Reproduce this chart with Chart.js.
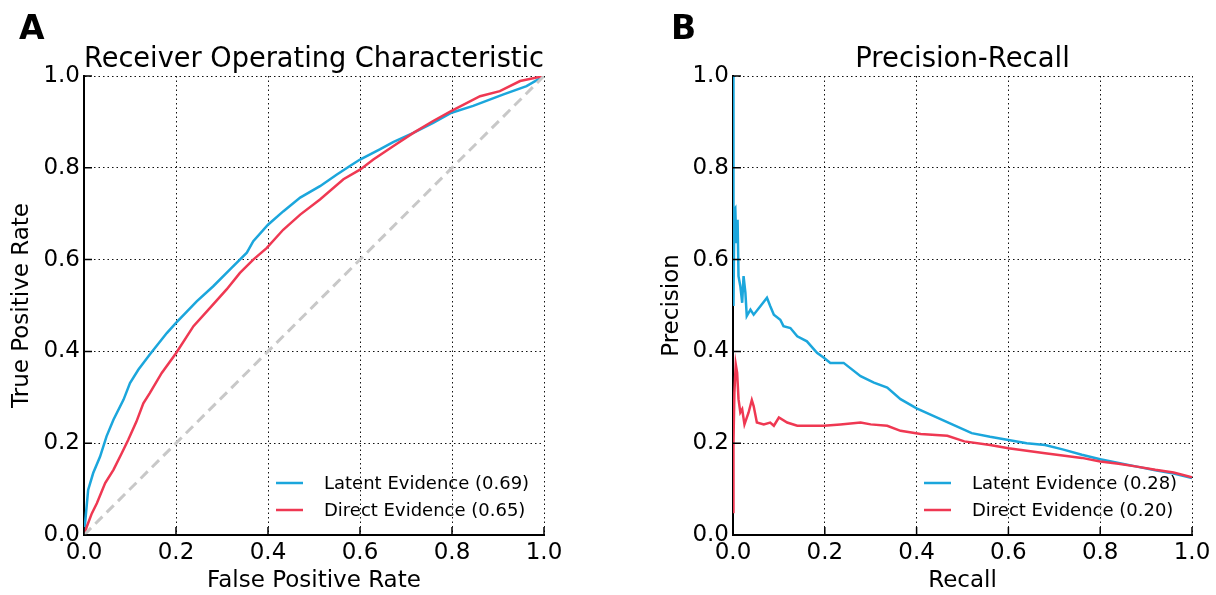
<!DOCTYPE html>
<html>
<head>
<meta charset="utf-8">
<script src="https://cdn.jsdelivr.net/npm/chart.js@4"></script>
<style>
  body { margin: 0; background: #fff; width: 1216px; height: 595px; position: relative; overflow: hidden; font-family: "DejaVu Sans", sans-serif; }
  .panel { position: absolute; top: 0; width: 608px; height: 595px; }
  .tag { position: absolute; top: 8px; font: bold 33px "DejaVu Sans", sans-serif; color: #000; }
</style>
</head>
<body>
<div class="panel" style="left:0"><canvas id="roc"></canvas></div>
<div class="panel" style="left:608px"><canvas id="pr"></canvas></div>
<div class="tag" style="left:19px">A</div>
<div class="tag" style="left:671px">B</div>
<script>
// ROC curves
const rocLatentFpr = [0, 0.009, 0.02, 0.035, 0.049, 0.064, 0.086, 0.1, 0.118, 0.143, 0.18, 0.2, 0.245, 0.281, 0.317, 0.354, 0.368, 0.4, 0.433, 0.47, 0.513, 0.549, 0.578, 0.6, 0.643, 0.672, 0.716, 0.759, 0.799, 0.846, 0.912, 0.962, 1];
const rocLatentTpr = [0, 0.098, 0.135, 0.171, 0.215, 0.251, 0.295, 0.331, 0.36, 0.393, 0.44, 0.462, 0.509, 0.542, 0.578, 0.615, 0.64, 0.676, 0.705, 0.735, 0.76, 0.785, 0.804, 0.818, 0.84, 0.856, 0.876, 0.898, 0.92, 0.935, 0.96, 0.978, 1];
const rocDirectFpr = [0, 0.006, 0.017, 0.028, 0.046, 0.064, 0.082, 0.096, 0.114, 0.129, 0.143, 0.169, 0.2, 0.238, 0.274, 0.31, 0.339, 0.368, 0.397, 0.433, 0.47, 0.513, 0.564, 0.6, 0.629, 0.672, 0.716, 0.759, 0.799, 0.861, 0.904, 0.948, 1];
const rocDirectTpr = [0, 0.018, 0.047, 0.069, 0.113, 0.142, 0.178, 0.207, 0.247, 0.287, 0.309, 0.353, 0.396, 0.455, 0.495, 0.535, 0.571, 0.6, 0.625, 0.665, 0.698, 0.731, 0.775, 0.796, 0.818, 0.847, 0.876, 0.902, 0.924, 0.956, 0.967, 0.989, 1];
const rocChance = [0, 1];

// Precision-recall curves
const prLatentRecall = [0, 0.001, 0.003, 0.005, 0.007, 0.01, 0.012, 0.016, 0.02, 0.023, 0.027, 0.03, 0.038, 0.045, 0.06, 0.074, 0.081, 0.089, 0.103, 0.11, 0.125, 0.14, 0.161, 0.183, 0.198, 0.212, 0.241, 0.278, 0.307, 0.336, 0.365, 0.4, 0.44, 0.48, 0.52, 0.56, 0.6, 0.64, 0.68, 0.72, 0.76, 0.8, 0.84, 0.88, 0.92, 0.96, 1.0];
const prLatentPrecision = [1.0, 0.499, 0.709, 0.712, 0.636, 0.687, 0.564, 0.542, 0.506, 0.564, 0.528, 0.477, 0.491, 0.48, 0.499, 0.517, 0.499, 0.48, 0.469, 0.455, 0.451, 0.433, 0.422, 0.397, 0.386, 0.375, 0.375, 0.346, 0.332, 0.321, 0.296, 0.276, 0.258, 0.24, 0.222, 0.214, 0.207, 0.2, 0.196, 0.186, 0.175, 0.165, 0.157, 0.149, 0.141, 0.134, 0.124];
const prDirectRecall = [0, 0.001, 0.003, 0.006, 0.009, 0.012, 0.016, 0.02, 0.025, 0.034, 0.041, 0.045, 0.052, 0.067, 0.081, 0.089, 0.1, 0.118, 0.14, 0.169, 0.198, 0.234, 0.278, 0.3, 0.336, 0.365, 0.409, 0.467, 0.504, 0.56, 0.6, 0.68, 0.76, 0.8, 0.84, 0.88, 0.92, 0.96, 1.0];
const prDirectPrecision = [0.05, 0.2, 0.31, 0.372, 0.354, 0.296, 0.267, 0.274, 0.241, 0.267, 0.294, 0.281, 0.245, 0.241, 0.245, 0.238, 0.256, 0.245, 0.238, 0.238, 0.238, 0.241, 0.245, 0.241, 0.238, 0.227, 0.22, 0.216, 0.204, 0.196, 0.189, 0.178, 0.168, 0.16, 0.155, 0.149, 0.142, 0.136, 0.126];

const rocLabels = ['Latent Evidence (0.69)', 'Direct Evidence (0.65)'];
const prLabels = ['Latent Evidence (0.28)', 'Direct Evidence (0.20)'];
const tickValues = [0, 0.2, 0.4, 0.6, 0.8, 1.0];

const BLUE = '#1ba6dc';
const RED = '#ef3852';
const FONT = '"DejaVu Sans", sans-serif';

function pts(xs, ys) {
    return xs.map((x, i) => ({x: x, y: ys[i]}));
}

function curve(label, data, color, legendPos) {
    return {label: label, data: data, borderColor: color, borderWidth: 2.5,
        pointRadius: 0, tension: 0, fill: false, legendPos: legendPos};
}

// inward tick marks on the left and bottom spines
const innerTicks = {
    id: 'innerTicks',
    afterDatasetsDraw(chart) {
        const ctx = chart.ctx, a = chart.chartArea;
        const xs = chart.scales.x, ys = chart.scales.y;
        ctx.save();
        ctx.strokeStyle = '#000';
        ctx.lineWidth = 1.5;
        ctx.beginPath();
        tickValues.forEach(v => {
            const px = xs.getPixelForValue(v);
            ctx.moveTo(px, a.bottom);
            ctx.lineTo(px, a.bottom - 8);
            const py = ys.getPixelForValue(v);
            ctx.moveTo(a.left, py);
            ctx.lineTo(a.left + 8, py);
        });
        ctx.stroke();
        ctx.restore();
    }
};

// frameless legend in the lower right of the plot area
const cornerLegend = {
    id: 'cornerLegend',
    afterDraw(chart) {
        const ctx = chart.ctx, a = chart.chartArea;
        const items = chart.data.datasets.filter(d => d.legendPos !== undefined);
        ctx.save();
        ctx.font = '18px ' + FONT;
        ctx.textBaseline = 'middle';
        ctx.fillStyle = '#000';
        items.forEach(d => {
            const y = a.bottom - 52 + d.legendPos * 27;
            ctx.strokeStyle = d.borderColor;
            ctx.lineWidth = 2.5;
            ctx.beginPath();
            ctx.moveTo(a.right - 268, y);
            ctx.lineTo(a.right - 241, y);
            ctx.stroke();
            ctx.fillText(d.label, a.right - 220, y + 1);
        });
        ctx.restore();
    }
};

function makeOptions(title, xTitle, yTitle, yWidth, yTitlePad, padRight) {
    const axis = (t, pad) => ({
        min: 0, max: 1,
        ticks: {stepSize: 0.2, padding: pad, color: '#000', maxRotation: 0,
            font: {family: FONT, size: 23}, callback: v => v.toFixed(1)},
        grid: {color: '#111', lineWidth: 1, drawTicks: false},
        // border.dash styles the grid lines, the spine itself stays solid
        border: {display: true, color: '#000', width: 2, dash: [1.5, 3]},
        title: {display: true, text: t, color: '#000',
            font: {family: FONT, size: 23, lineHeight: 1.2}, padding: {top: 0, bottom: 0}}
    });
    const x = axis(xTitle, 4);
    x.type = 'linear';
    x.afterFit = s => { s.height = 60; };
    const y = axis(yTitle, 4);
    y.afterFit = s => { s.width = yWidth; };
    y.title.padding = {top: yTitlePad, bottom: 0};
    return {
        responsive: true,
        maintainAspectRatio: false,
        animation: false,
        layout: {padding: {left: 0, right: padRight, top: 0, bottom: 0}},
        plugins: {
            legend: {display: false},
            tooltip: {enabled: false},
            title: {
                display: true, text: title, color: '#000', fullSize: false,
                font: {family: FONT, size: 27.5, weight: 'normal', lineHeight: 1.2},
                padding: {top: 43, bottom: 0}
            }
        },
        scales: {x: x, y: y}
    };
}

new Chart(document.getElementById('roc'), {
    type: 'line',
    data: {
        datasets: [
            {label: 'chance', data: pts(rocChance, rocChance), borderColor: '#c8c8c8', borderWidth: 3,
                borderDash: [10, 6], pointRadius: 0, tension: 0},
            curve(rocLabels[1], pts(rocDirectFpr, rocDirectTpr), RED, 1),
            curve(rocLabels[0], pts(rocLatentFpr, rocLatentTpr), BLUE, 0)
        ]
    },
    options: makeOptions('Receiver Operating Characteristic', 'False Positive Rate', 'True Positive Rate', 84, 8, 64),
    plugins: [innerTicks, cornerLegend]
});

new Chart(document.getElementById('pr'), {
    type: 'line',
    data: {
        datasets: [
            curve(prLabels[1], pts(prDirectRecall, prDirectPrecision), RED, 1),
            curve(prLabels[0], pts(prLatentRecall, prLatentPrecision), BLUE, 0)
        ]
    },
    options: makeOptions('Precision-Recall', 'Recall', 'Precision', 125, 50, 24),
    plugins: [innerTicks, cornerLegend]
});
</script>
</body>
</html>
